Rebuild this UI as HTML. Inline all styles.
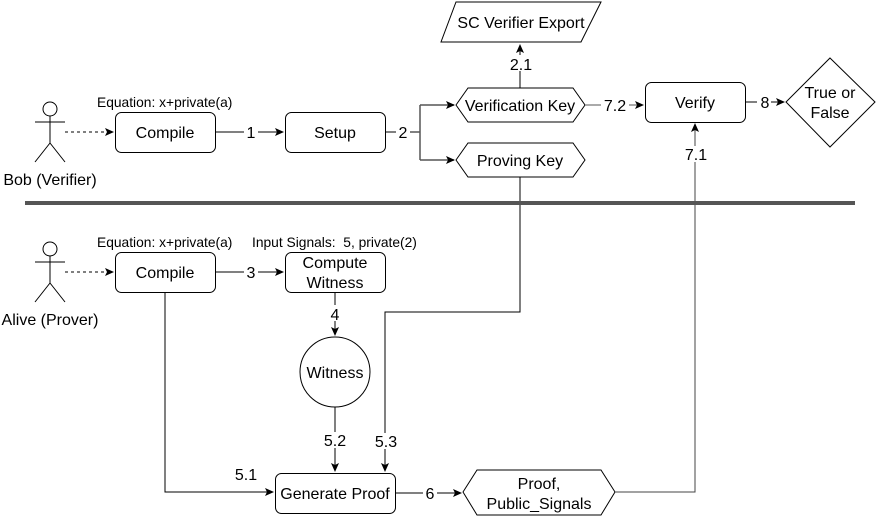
<!DOCTYPE html>
<html><head><style>body{margin:0;background:#fff}svg{display:block}text{font-family:"Liberation Sans",sans-serif;fill:#000}</style></head>
<body>
<svg width="878" height="518" viewBox="0 0 878 518" xmlns="http://www.w3.org/2000/svg">
<defs><marker id="a" markerWidth="10" markerHeight="10" refX="8" refY="5" orient="auto" markerUnits="userSpaceOnUse"><path d="M0,1 L9,5 L0,9 L2,5 Z" fill="#000"/></marker></defs>
<g fill="none" stroke="#000" stroke-width="1">
<circle cx="50" cy="109" r="7"/><path d="M35,122H65M50,116V143M50,143L35,162M50,143L65,162"/>
<circle cx="50" cy="249" r="7"/><path d="M35,262H65M50,256V283M50,283L35,302M50,283L65,302"/>
<path d="M65,132H113" stroke-dasharray="3,3" marker-end="url(#a)"/>
<path d="M65,272H113" stroke-dasharray="3,3" marker-end="url(#a)"/>
<rect x="115.5" y="112.5" width="100" height="40" rx="6"/>
<rect x="285.5" y="112.5" width="100" height="40" rx="6"/>
<rect x="645.5" y="82.5" width="100" height="40" rx="6"/>
<rect x="115.5" y="252.5" width="100" height="40" rx="6"/>
<rect x="285.5" y="252.5" width="100" height="40" rx="6"/>
<rect x="275.5" y="473.5" width="120" height="40" rx="6"/>
<circle cx="335" cy="372" r="35"/>
<path d="M456,105L468,88H573L585,105L573,122H468Z"/>
<path d="M456,160L468,143H573L585,160L573,177H468Z"/>
<path d="M463,492L477,470H601L615,492L601,515H477Z"/>
<path d="M456,2H601L581,42H441Z"/>
<path d="M830,58L875,102L830,147L786,102Z"/>
<path d="M215,132H283" marker-end="url(#a)"/>
<path d="M385,132H420" />
<path d="M420,105V160" stroke="#555" stroke-width="1.5"/>
<path d="M420,105H454" stroke="#555" stroke-width="1.5" marker-end="url(#a)"/>
<path d="M420,160H454" stroke="#555" stroke-width="1.5" marker-end="url(#a)"/>
<path d="M520,88V45" marker-end="url(#a)"/>
<path d="M585,105H643" stroke="#555" marker-end="url(#a)"/>
<path d="M745,102H784" marker-end="url(#a)"/>
<path d="M215,272H283" marker-end="url(#a)"/>
<path d="M335,292V335" marker-end="url(#a)"/>
<path d="M335,407V471" marker-end="url(#a)"/>
<path d="M520,177V312H385V471" marker-end="url(#a)"/>
<path d="M165,292V492H273" marker-end="url(#a)"/>
<path d="M395,493H461" marker-end="url(#a)"/>
<path d="M615,492H695V124" stroke="#444" marker-end="url(#a)"/>
</g>
<rect x="25" y="201" width="830" height="4" fill="#555"/>
<g font-size="13.8">
<text x="97" y="107">Equation: x+private(a)</text>
<text x="97" y="247">Equation: x+private(a)</text>
<text x="252" y="247" xml:space="preserve">Input Signals:  5, private(2)</text>
</g>
<g font-size="16" text-anchor="middle">
<rect x="244" y="124" width="14" height="16" fill="#fff"/><text x="251" y="138">1</text>
<rect x="396" y="124" width="14" height="16" fill="#fff"/><text x="403" y="138">2</text>
<rect x="244" y="264" width="14" height="16" fill="#fff"/><text x="251" y="278">3</text>
<rect x="328" y="305" width="14" height="16" fill="#fff"/><text x="335" y="320">4</text>
<rect x="507" y="55" width="28" height="16" fill="#fff"/><text x="521" y="70">2.1</text>
<rect x="601" y="97" width="28" height="16" fill="#fff"/><text x="615" y="111">7.2</text>
<rect x="757" y="94" width="14" height="16" fill="#fff"/><text x="765" y="108">8</text>
<rect x="682" y="146" width="28" height="16" fill="#fff"/><text x="696" y="160">7.1</text>
<rect x="321" y="432" width="28" height="16" fill="#fff"/><text x="335" y="446">5.2</text>
<rect x="372" y="433" width="28" height="16" fill="#fff"/><text x="386" y="447">5.3</text>
<text x="246" y="480">5.1</text>
<rect x="423" y="485" width="14" height="16" fill="#fff"/><text x="430" y="499">6</text>
<text x="165" y="138">Compile</text>
<text x="335" y="138">Setup</text>
<text x="695" y="108">Verify</text>
<text x="165" y="278">Compile</text>
<text x="335" y="268">Compute</text>
<text x="335" y="288">Witness</text>
<text x="335" y="378">Witness</text>
<text x="335" y="499">Generate Proof</text>
<text x="520" y="111">Verification Key</text>
<text x="520" y="166">Proving Key</text>
<text x="539" y="489">Proof,</text>
<text x="539" y="509">Public_Signals</text>
<text x="521" y="28">SC Verifier Export</text>
<text x="830" y="98">True or</text>
<text x="830" y="118">False</text>
<text x="50" y="185">Bob (Verifier)</text>
<text x="50" y="325">Alive (Prover)</text>
</g>
</svg>
</body></html>
